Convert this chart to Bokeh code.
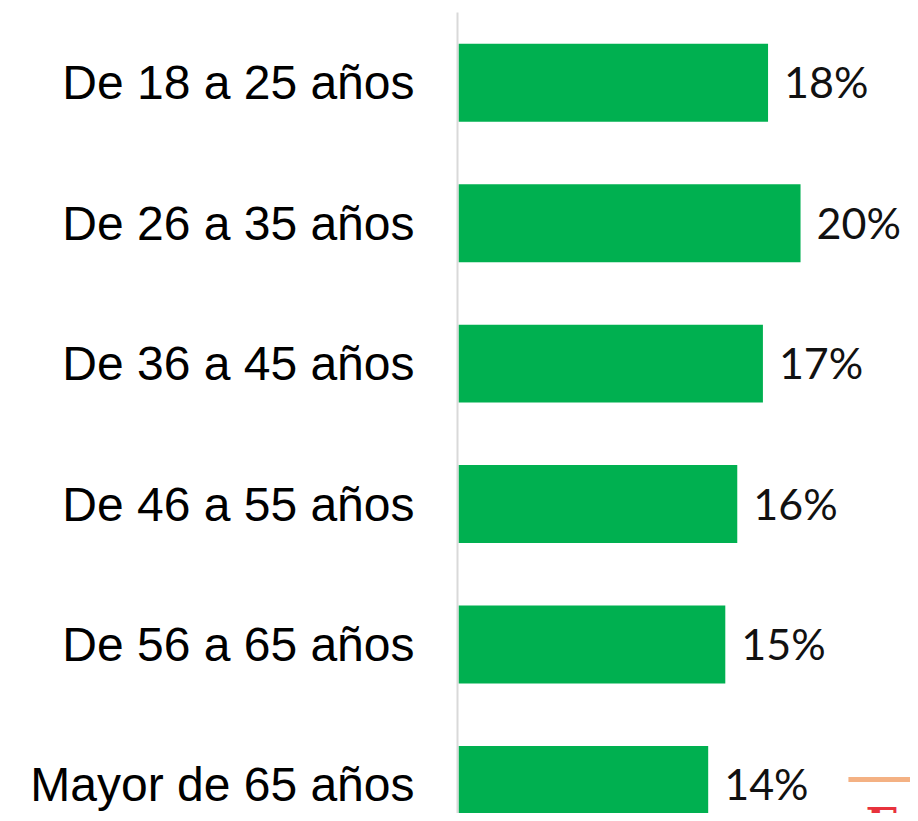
from bokeh.plotting import figure
from bokeh.models import Range1d, FixedTicker, ColumnDataSource
from bokeh.core.properties import value
from bokeh.embed import file_html
from bokeh.resources import INLINE

# Data
categories = ["De 18 a 25 años", "De 26 a 35 años", "De 36 a 45 años",
              "De 46 a 55 años", "De 56 a 65 años", "Mayor de 65 años"]
values = [18.1, 20.0, 17.8, 16.3, 15.6, 14.6]
value_labels = ["18%", "20%", "17%", "16%", "15%", "14%"]

positions = list(range(len(categories)))

src = ColumnDataSource(dict(y=positions, v=values, lab=value_labels))

p = figure(width=910, height=813, output_backend="svg", toolbar_location=None,
           x_range=Range1d(-0.06, 26.43), y_range=Range1d(5.203, -0.5),
           min_border_left=457, min_border_right=0, min_border_top=12,
           min_border_bottom=0, outline_line_color=None)

p.hbar(y="y", right="v", left=0, height=0.555, source=src,
       fill_color="#00B050", line_color=None)

p.text(x="v", y="y", text="lab", source=src, x_offset=16, y_offset=-1,
       text_align="left", text_baseline="middle",
       text_font=value("Lato"), text_font_size="43px", text_color="#111111")

# decorative logo fragment (bottom right)
p.segment(x0=[22.8], y0=[4.961], x1=[27.0], y1=[4.961],
          line_color="#F4B183", line_width=5)
p.text(x=[23.8], y=[5.10], text=["Ex"], text_align="left", text_baseline="top",
       text_font=value("DejaVu Serif"), text_font_style="bold",
       text_font_size="44px", text_color="#E8323C")

p.xaxis.visible = False
p.xgrid.visible = False
p.ygrid.visible = False

yax = p.yaxis[0]
yax.ticker = FixedTicker(ticks=positions)
yax.major_label_overrides = {i: c for i, c in zip(positions, categories)}
yax.major_tick_line_color = None
yax.minor_tick_line_color = None
yax.axis_line_color = "#D9D9D9"
yax.axis_line_width = 2
yax.major_label_standoff = 37
yax.major_label_text_font = "Liberation Sans"
yax.major_label_text_font_size = "48px"
yax.major_label_text_color = "#000000"

open("out.html", "w").write(file_html(p, INLINE))
